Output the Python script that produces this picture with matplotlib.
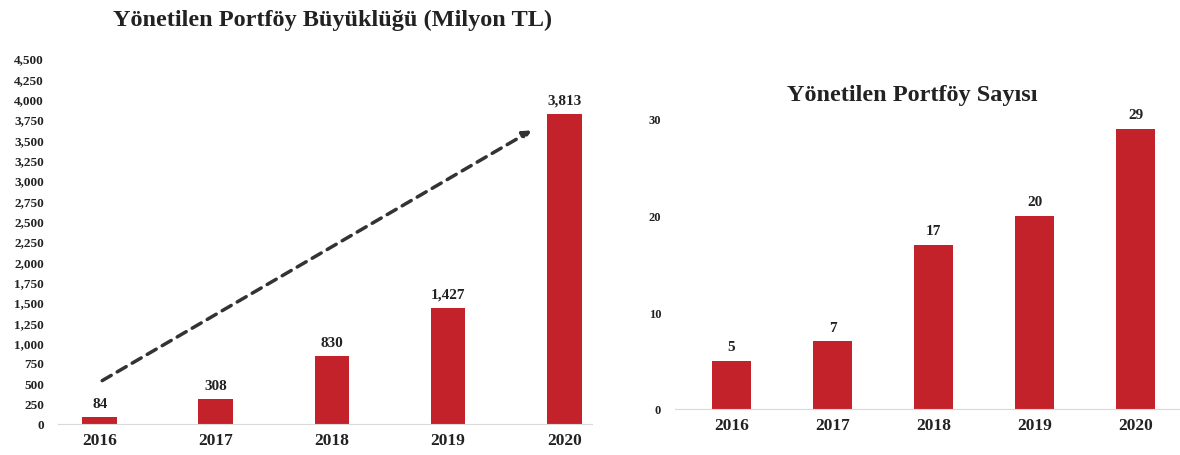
import matplotlib.pyplot as plt
import numpy as np

years = ['2016', '2017', '2018', '2019', '2020']
size_vals = [84, 308, 830, 1427, 3813]
size_labels = ['84', '308', '830', '1,427', '3,813']
count_vals = [5, 7, 17, 20, 29]
size_ticks = list(range(0, 4501, 250))
count_ticks = [0, 10, 20, 30]

bar_color = '#c4222a'
txt = '#222222'
plt.rcParams['font.family'] = ['Liberation Serif', 'DejaVu Serif']
plt.rcParams['font.weight'] = 'bold'

fig = plt.figure(figsize=(11.8, 4.56), dpi=100)

# left: portfolio size
ax1 = fig.add_axes([58/1180, 31/456, 534/1180, 366/456])
x = np.arange(len(years))
ax1.bar(x, size_vals, 0.3, color=bar_color)
for xi, v, lab in zip(x, size_vals, size_labels):
    ax1.text(xi, v + 90, lab, ha='center', va='bottom', fontsize=11,
             fontweight='bold', color=txt)
ax1.set_xlim(-0.36, 4.24)
ax1.set_ylim(0, 4500)
ax1.set_yticks(size_ticks)
ax1.set_yticklabels([f'{t:,}' for t in size_ticks], fontsize=9.5, fontweight='bold', color=txt)
ax1.set_xticks(x)
ax1.set_xticklabels(years, fontsize=12.5, fontweight='bold', color=txt)
ax1.tick_params(length=0, pad=10)
ax1.tick_params(axis='x', pad=6)
for s in ['top', 'right', 'left']:
    ax1.spines[s].set_visible(False)
ax1.spines['bottom'].set_color('#d9d9d9')
ax1.annotate('', xy=(3.74, 3627), xytext=(0.0, 516),
             arrowprops=dict(arrowstyle='-|>', linestyle=(0, (3, 2)), lw=2.5,
                             color='#333333', mutation_scale=12))
fig.text(333/1180, 1 - 20/456, 'Yönetilen Portföy Büyüklüğü (Milyon TL)', ha='center',
         va='center', fontsize=17.5, fontweight='bold', color=txt)

# right: portfolio count
ax2 = fig.add_axes([675/1180, 46/456, 505/1180, 290/456])
ax2.bar(x, count_vals, 0.39, color=bar_color)
for xi, v in zip(x, count_vals):
    ax2.text(xi, v + 0.8, str(v), ha='center', va='bottom', fontsize=11,
             fontweight='bold', color=txt)
ax2.set_xlim(-0.56, 4.44)
ax2.set_ylim(0, 30)
ax2.set_yticks(count_ticks)
ax2.set_yticklabels([str(t) for t in count_ticks], fontsize=9, fontweight='bold', color=txt)
ax2.set_xticks(x)
ax2.set_xticklabels(years, fontsize=12.5, fontweight='bold', color=txt)
ax2.tick_params(length=0, pad=10)
ax2.tick_params(axis='x', pad=6)
for s in ['top', 'right', 'left']:
    ax2.spines[s].set_visible(False)
ax2.spines['bottom'].set_color('#d9d9d9')
fig.text(912/1180, 1 - 95/456, 'Yönetilen Portföy Sayısı', ha='center',
         va='center', fontsize=17.5, fontweight='bold', color=txt)

plt.savefig('out.png', dpi=100)
